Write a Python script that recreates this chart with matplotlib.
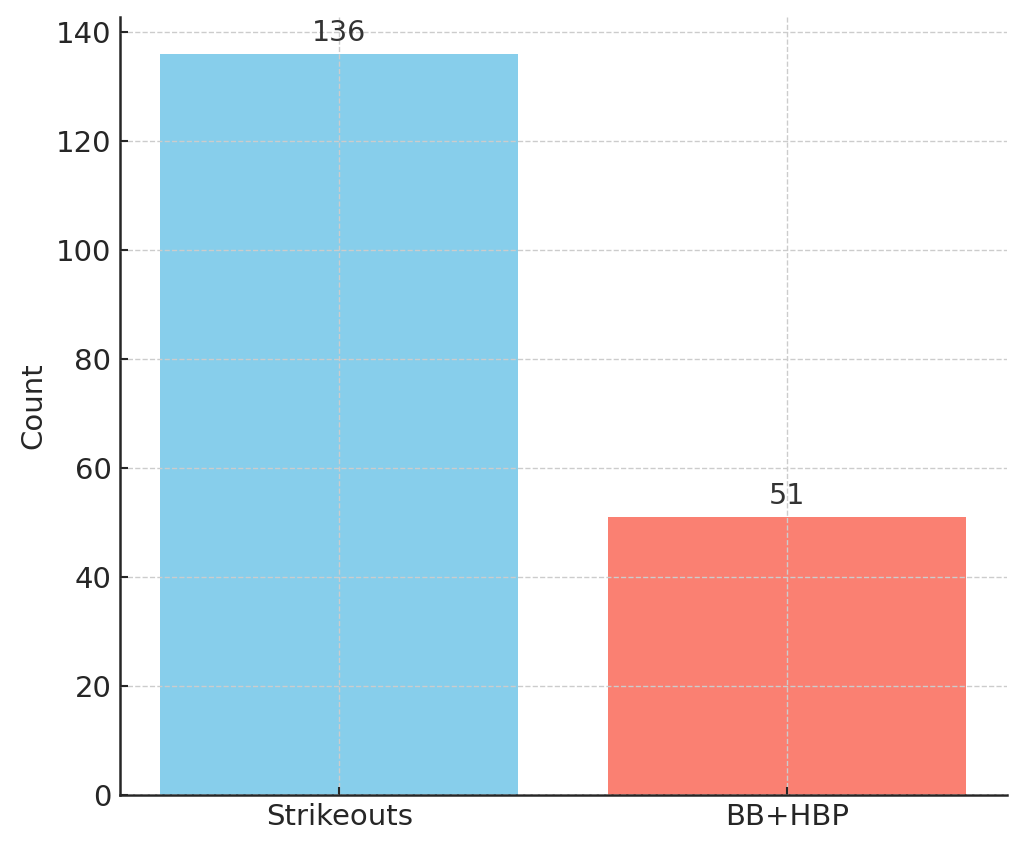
import matplotlib.pyplot as plt

categories = ["Strikeouts", "BB+HBP"]
counts = [136, 51]
colors = ["skyblue", "salmon"]

plt.rcParams["font.family"] = ["DejaVu Sans"]
text_color = "#262626"

fig, ax = plt.subplots(figsize=(10.24, 8.49), dpi=100)

bars = ax.bar(categories, counts, color=colors, width=0.8, zorder=2)

# 数值标签放在柱子上方
for bar, value in zip(bars, counts):
    ax.text(bar.get_x() + bar.get_width() / 2, value + 1.2, f"{value}",
            ha="center", va="bottom", fontsize=20.5, color="#333333")

ax.set_ylabel("Count", fontsize=21, color=text_color, labelpad=6)
ax.grid(True, linestyle="--", color="#cccccc", linewidth=1.0, zorder=0)
ax.set_axisbelow(False)

for spine in ("right", "top"):
    ax.spines[spine].set_visible(False)
for spine in ("left", "bottom"):
    ax.spines[spine].set_linewidth(1.8)
    ax.spines[spine].set_color(text_color)

ax.tick_params(axis="both", direction="in", labelsize=21, colors=text_color,
               length=6, width=1.5, pad=6)

fig.subplots_adjust(left=0.117, right=0.983, top=0.98, bottom=0.064)
fig.savefig("out.png")
plt.close(fig)
